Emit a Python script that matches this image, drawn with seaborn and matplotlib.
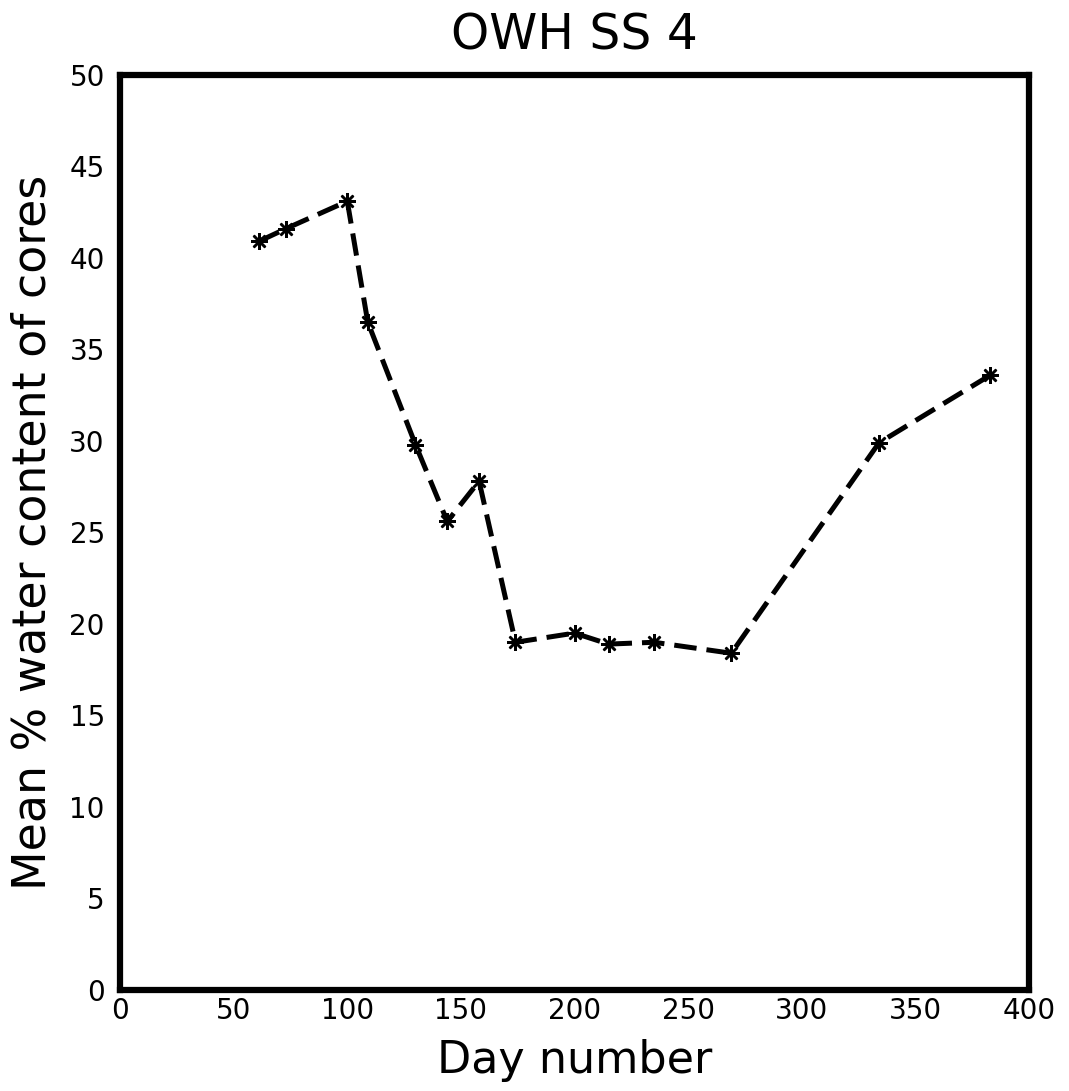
import matplotlib
matplotlib.use("Agg")
import matplotlib.pyplot as plt
import seaborn as sns
import pandas as pd

# values
day = [61, 73, 100, 109, 130, 144, 158, 174, 200, 215, 235, 269, 334, 383]
water = [40.9, 41.6, 43.1, 36.5, 29.8, 25.6, 27.8, 19.0, 19.5, 18.9, 19.0, 18.4, 29.9, 33.6]

xticks = [0, 50, 100, 150, 200, 250, 300, 350, 400]
yticks = [0, 5, 10, 15, 20, 25, 30, 35, 40, 45, 50]

df = pd.DataFrame({"day": day, "water": water})

sns.set_style("white")
plt.rcParams['font.family'] = ['DejaVu Sans']
plt.rcParams['text.color'] = 'black'
plt.rcParams['axes.labelcolor'] = 'black'
plt.rcParams['xtick.color'] = 'black'
plt.rcParams['ytick.color'] = 'black'

fig = plt.figure(figsize=(10.69, 10.91), dpi=100)
ax = fig.add_axes([0.1123, 0.0926, 0.8503, 0.8387])

sns.lineplot(data=df, x="day", y="water", ax=ax, color="black",
             linewidth=3.6, marker=(8, 2, 0), markersize=12,
             markeredgewidth=1.8, markeredgecolor="black")
ax.lines[0].set_dashes([4.5, 2])

ax.set_xlim(0, 400)
ax.set_ylim(0, 50)
ax.set_xticks(xticks)
ax.set_yticks(yticks)
ax.tick_params(axis="both", length=0, labelsize=20)
ax.tick_params(axis="x", pad=5)
ax.tick_params(axis="y", pad=11)

for s in ax.spines.values():
    s.set_linewidth(4.5)
    s.set_color("black")

ax.set_xlabel("Day number", fontsize=32, labelpad=10)
ax.set_ylabel("Mean % water content of cores", fontsize=33, labelpad=10)
ax.set_title("OWH SS 4", fontsize=35, pad=18)

fig.savefig("out.png", dpi=100)
